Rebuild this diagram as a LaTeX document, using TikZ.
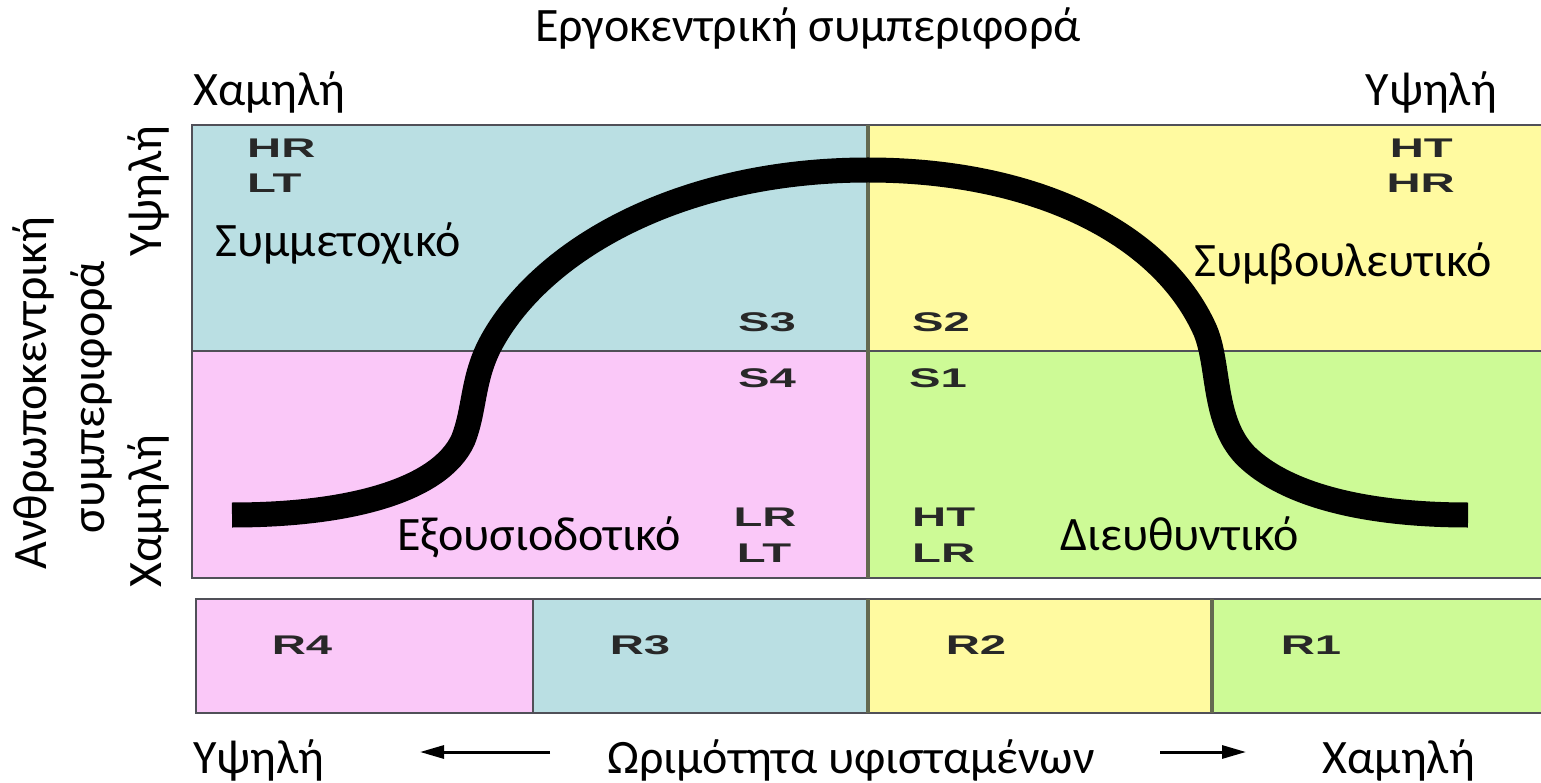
\documentclass[tikz,border=0pt]{standalone}
\usepackage{fontspec}
\usepackage{graphicx}
\usetikzlibrary{arrows.meta}
\setmainfont{Carlito}
\newfontfamily\lblfont{Liberation Sans}
\definecolor{qblue}{RGB}{186,223,227}
\definecolor{qyellow}{RGB}{255,250,160}
\definecolor{qpink}{RGB}{250,200,248}
\definecolor{qgreen}{RGB}{205,250,150}
\definecolor{qborder}{RGB}{80,80,88}
\definecolor{qolive}{RGB}{100,105,80}
\definecolor{qlbl}{RGB}{40,40,40}
\newcommand{\qlab}[1]{\scalebox{1.75}[1]{\lblfont\bfseries #1}}
\begin{document}
\begin{tikzpicture}[x=1pt,y=-1pt,
  gtext/.style={font=\fontsize{48}{52}\selectfont, inner sep=0pt},
  lbl/.style={font=\fontsize{27}{29}\selectfont, text=qlbl, inner sep=0pt},
  frame/.style={draw=qborder, line width=2.2pt},
  divider/.style={draw=qolive, line width=3.5pt},
  arr/.style={line width=3pt, -{Triangle[length=24pt,width=13pt]}}]
\useasboundingbox (0,0) rectangle (1541,783);
% quadrants
\fill[qblue] (192,125) rectangle (868,351);
\fill[qyellow] (868,125) rectangle (1541,351);
\fill[qpink] (192,351) rectangle (868,578);
\fill[qgreen] (868,351) rectangle (1541,578);
\draw[frame] (1541,125) -- (192,125) -- (192,578) -- (1541,578);
\draw[frame] (192,351) -- (1541,351);
\draw[divider] (868,125) -- (868,578);
% bottom strip
\fill[qpink] (196,599) rectangle (533,713);
\fill[qblue] (533,599) rectangle (868,713);
\fill[qyellow] (868,599) rectangle (1212,713);
\fill[qgreen] (1212,599) rectangle (1541,713);
\draw[frame] (1541,599) -- (196,599) -- (196,713) -- (1541,713);
\draw[frame] (533,599) -- (533,713);
\draw[divider] (868,599) -- (868,713);
\draw[divider] (1212,599) -- (1212,713);
% curve
\draw[line width=25pt, line cap=butt] (232,515)
  .. controls (350,515) and (440,490) .. (463,440)
  .. controls (475,410) and (472,380) .. (490,345)
  .. controls (540,250) and (680,170) .. (868,170)
  .. controls (1030,170) and (1160,230) .. (1205,330)
  .. controls (1220,365) and (1212,420) .. (1245,455)
  .. controls (1290,500) and (1380,515) .. (1468,515);
% small labels
\node[lbl, anchor=west] (hr1) at (247,148) {\qlab{HR}};
\node[lbl, anchor=west] (lt1) at (247,183) {\qlab{LT}};
\node[lbl, anchor=east] (ht2) at (1453,148) {\qlab{HT}};
\node[lbl, anchor=east] (hr2) at (1455,183) {\qlab{HR}};
\node[lbl] (s3) at (767,322) {\qlab{S3}};
\node[lbl] (s2) at (941,322) {\qlab{S2}};
\node[lbl] (s4) at (767,378) {\qlab{S4}};
\node[lbl] (s1) at (938,378) {\qlab{S1}};
\node[lbl] (lr3) at (765,517) {\qlab{LR}};
\node[lbl] (lt3) at (764,553) {\qlab{LT}};
\node[lbl, anchor=west] (ht4) at (912,517) {\qlab{HT}};
\node[lbl, anchor=west] (lr4) at (912,553) {\qlab{LR}};
\node[lbl] (r4) at (302,645) {\qlab{R4}};
\node[lbl] (r3) at (640,645) {\qlab{R3}};
\node[lbl] (r2) at (976,645) {\qlab{R2}};
\node[lbl] (r1) at (1311,645) {\qlab{R1}};
% Greek texts
\node[gtext, anchor=base] (title) at (808,42) {Εργοκεντρική συμπεριφορά};
\node[gtext, anchor=base west] (lowtop) at (193,106) {Χαμηλή};
\node[gtext, anchor=base east] (hightop) at (1497,106) {Υψηλή};
\node[gtext, anchor=base west] (s3name) at (215,257) {Συμμετοχικό};
\node[gtext, anchor=base east] (s2name) at (1492,277) {Συμβουλευτικό};
\node[gtext, anchor=base west] (s4name) at (397,550) {Εξουσιοδοτικό};
\node[gtext, anchor=base west] (s1name) at (1060,550) {Διευθυντικό};
\node[gtext, anchor=base west] (highbot) at (193,773) {Υψηλή};
\node[gtext, anchor=base] (maturity) at (851,773) {Ωριμότητα υφισταμένων};
\node[gtext, anchor=base east] (lowbot) at (1475,773) {Χαμηλή};
\node[gtext, rotate=90] (yaxis1) at (33,393) {Ανθρωποκεντρική};
\node[gtext, rotate=90] (yaxis2) at (91,397) {συμπεριφορά};
\node[gtext, rotate=90] (yhigh) at (148,191) {Υψηλή};
\node[gtext, rotate=90] (ylow) at (148,511) {Χαμηλή};
% arrows
\coordinate (la0) at (550,752);
\coordinate (la1) at (420,752);
\coordinate (ra0) at (1160,752);
\coordinate (ra1) at (1246,752);
\draw[arr] (la0) -- (la1);
\draw[arr] (ra0) -- (ra1);
\end{tikzpicture}
\end{document}
